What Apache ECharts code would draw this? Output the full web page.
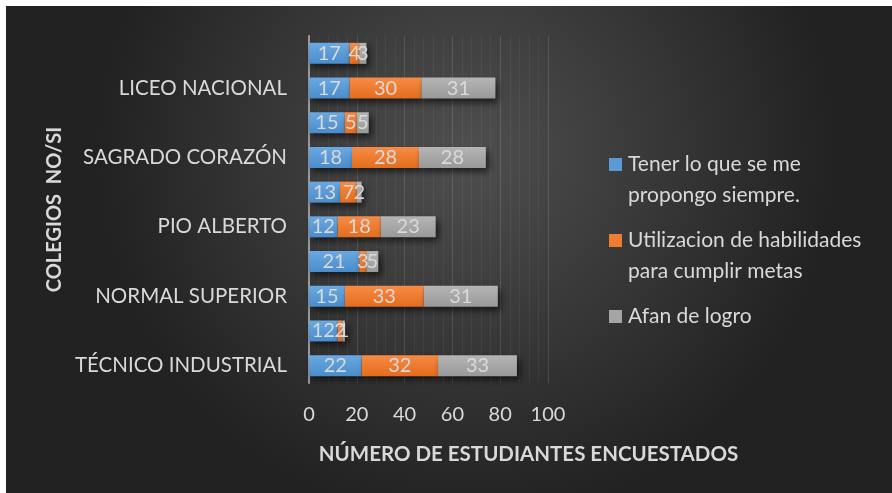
<!DOCTYPE html>
<html>
<head>
<meta charset="utf-8">
<script src="https://cdn.jsdelivr.net/npm/echarts@6/dist/echarts.min.js"></script>
<style>
html,body{margin:0;padding:0;background:#fff;}
#chart{width:892px;height:493px;}
</style>
</head>
<body>
<div id="chart"></div>
<script>
var categories = ['TÉCNICO INDUSTRIAL', 'TÉCNICO INDUSTRIAL NO', 'NORMAL SUPERIOR', 'NORMAL SUPERIOR NO', 'PIO ALBERTO', 'PIO ALBERTO NO', 'SAGRADO CORAZÓN', 'SAGRADO CORAZÓN NO', 'LICEO NACIONAL', 'LICEO NACIONAL NO'];
var seriesNames = ['Tener lo que se me propongo siempre.', 'Utilizacion de habilidades para cumplir metas', 'Afan de logro'];
var legendLines = [['Tener lo que se me', 'propongo siempre.'], ['Utilizacion de habilidades', 'para cumplir metas'], ['Afan de logro']];
var tener = [22, 12, 15, 21, 12, 13, 18, 15, 17, 17];
var utilizacion = [32, 2, 33, 3, 18, 7, 28, 5, 30, 4];
var afan = [33, 1, 31, 5, 23, 2, 28, 5, 31, 3];
var xTicks = [0, 20, 40, 60, 80, 100];

var FONT = 'Lato';
var colors = [['#6aa9e2', '#4a8ccb'], ['#f78c44', '#e46c1f'], ['#b5b5b5', '#999999']];
var solid = ['#5b9bd5', '#ed7d31', '#a5a5a5'];
function grad(c) {
  return new echarts.graphic.LinearGradient(0, 0, 0, 1, [{offset: 0, color: c[0]}, {offset: 1, color: c[1]}]);
}
var seriesData = [tener, utilizacion, afan];
var series = seriesData.map(function (d, i) {
  return {
    name: seriesNames[i],
    type: 'bar',
    stack: 'total',
    barWidth: 21,
    data: d,
    itemStyle: {
      color: grad(colors[i]),
      shadowBlur: 7,
      shadowColor: 'rgba(0,0,0,0.65)',
      shadowOffsetX: 3,
      shadowOffsetY: 4
    },
    label: {
      show: true,
      position: 'inside',
      color: '#d9d9d9',
      fontFamily: FONT,
      fontSize: 20
    }
  };
});

var rich = {};
solid.forEach(function (c, i) {
  rich['sq' + i] = {width: 13, height: 13, backgroundColor: c};
});
rich.sp = {width: 13, height: 13};
rich.t = {fontFamily: FONT, fontSize: 21, color: '#d9d9d9', padding: [0, 0, 0, 6], lineHeight: 31};

var chart = echarts.init(document.getElementById('chart'));
chart.setOption({
  backgroundColor: '#ffffff',
  animation: false,
  graphic: [{
    type: 'rect',
    z: -10,
    shape: {x: 6, y: 6, width: 886, height: 487},
    style: {
      fill: new echarts.graphic.RadialGradient(0.52, 0.3, 0.75, [
        {offset: 0, color: '#4f4f4f'},
        {offset: 1, color: '#222222'}
      ])
    }
  }],
  grid: {left: 309, right: 344, top: 36, bottom: 110, containLabel: false},
  legend: {
    orient: 'vertical',
    left: 599,
    top: 144,
    itemWidth: 0,
    itemHeight: 0,
    itemGap: 14,
    icon: 'rect',
    selectedMode: false,
    data: seriesNames,
    formatter: function (name) {
      var i = seriesNames.indexOf(name);
      var lines = legendLines[i];
      return lines.map(function (l, k) {
        return (k === 0 ? '{sq' + i + '|}' : '{sp|}') + '{t|' + l + '}';
      }).join('\n');
    },
    textStyle: {rich: rich, lineHeight: 31}
  },
  xAxis: {
    type: 'value',
    min: 0,
    max: 100,
    interval: 20,
    name: 'NÚMERO DE ESTUDIANTES ENCUESTADOS',
    nameLocation: 'middle',
    nameGap: 61,
    nameTextStyle: {color: '#d9d9d9', fontFamily: FONT, fontSize: 20.5, fontWeight: 'bold', padding: [0, 0, 0, 200]},
    axisLine: {show: false},
    axisTick: {show: false},
    axisLabel: {
      color: '#d9d9d9', fontFamily: FONT, fontSize: 20, margin: 22,
      formatter: function (v) { return xTicks.indexOf(v) >= 0 ? String(v) : ''; }
    },
    splitLine: {show: true, lineStyle: {color: 'rgba(255,255,255,0.12)', width: 1}},
    minorTick: {show: false, splitNumber: 5},
    minorSplitLine: {show: true, lineStyle: {color: 'rgba(255,255,255,0.05)', width: 1}}
  },
  yAxis: {
    type: 'category',
    data: categories,
    name: 'COLEGIOS  NO/SI',
    nameLocation: 'middle',
    nameGap: 244,
    nameRotate: 90,
    nameTextStyle: {color: '#d9d9d9', fontFamily: FONT, fontSize: 20, fontWeight: 'bold'},
    axisLine: {show: true, lineStyle: {color: '#9a9a9a', width: 2}},
    axisTick: {show: false},
    axisLabel: {
      interval: 1,
      color: '#d9d9d9', fontFamily: FONT, fontSize: 20.5, margin: 22
    }
  },
  series: series
});
</script>
</body>
</html>
